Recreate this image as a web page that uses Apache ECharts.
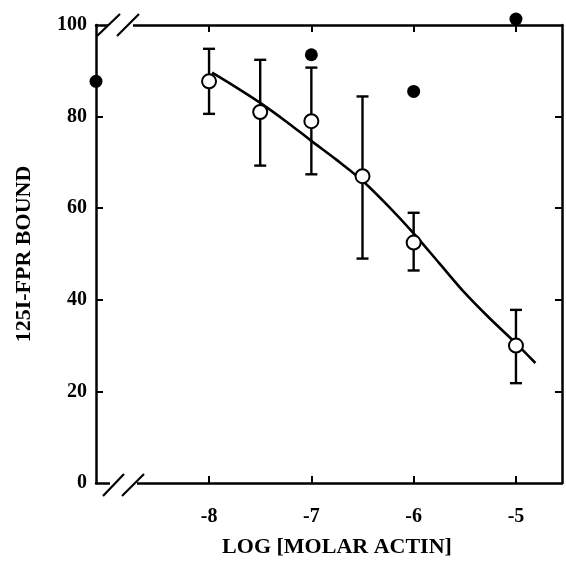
<!DOCTYPE html>
<html><head><meta charset="utf-8">
<script src="https://cdn.jsdelivr.net/npm/echarts@6/dist/echarts.min.js"></script>
<style>html,body{margin:0;padding:0;background:#fff}#c{width:566px;height:563px}</style>
</head><body><div id="c"></div>
<script>
// ---- data ----
const xMin = -9.105, xMax = -4.55;
const xTickValues = [-8, -7, -6, -5];
const yTickValues = [20, 40, 60, 80];
const openX = [-8, -7.5, -7, -6.5, -6, -5];
const openY = [87.7, 81.0, 79.0, 67.0, 52.5, 30.0];
const errLow = [80.6, 69.3, 67.4, 49.0, 46.4, 21.8];
const errHigh = [94.8, 92.4, 90.7, 84.4, 59.0, 37.8];
const filledX = [-9.105, -7, -6, -5];
const filledY = [87.7, 93.5, 85.5, 101.3];
const curveX = [-7.97, -7.75, -7.5, -7.25, -7.0, -6.75, -6.5, -6.25, -6.0, -5.75, -5.5, -5.25, -5.0, -4.81];
const curveY = [89.6, 86.6, 83.0, 79.0, 74.7, 70.5, 66.0, 60.5, 54.5, 48.0, 41.5, 35.8, 30.5, 26.2];
const xName = 'LOG [MOLAR ACTIN]';
const yName = '125I-FPR BOUND';

const FONT = 'Liberation Serif';
const chart = echarts.init(document.getElementById('c'), null, {renderer: 'canvas'});
const axisLine = {show: true, onZero: false, lineStyle: {color: '#000', width: 2.5}};
const tick = (vals) => ({show: true, inside: true, length: 7, lineStyle: {color: '#000', width: 2}, customValues: vals});
const labelStyle = {color: '#000', fontFamily: FONT, fontSize: 20, fontWeight: 'bold'};

chart.setOption({
  animation: false,
  backgroundColor: '#fff',
  grid: {left: 96, right: 4, top: 25, bottom: 75, containLabel: false},
  xAxis: [
    {type: 'value', min: xMin, max: xMax, position: 'bottom',
     axisLine, axisTick: tick(xTickValues), splitLine: {show: false},
     axisLabel: Object.assign({customValues: xTickValues, margin: 24}, labelStyle),
     name: xName, nameLocation: 'middle', nameGap: 53,
     nameTextStyle: {color: '#000', fontFamily: FONT, fontSize: 22, fontWeight: 'bold', padding: [0, 0, 0, 16]}},
    {type: 'value', min: xMin, max: xMax, position: 'top',
     axisLine, axisTick: tick(xTickValues), splitLine: {show: false}, axisLabel: {show: false}}
  ],
  yAxis: [
    {type: 'value', min: 0, max: 100, interval: 20, position: 'left',
     axisLine, axisTick: tick(yTickValues), splitLine: {show: false},
     axisLabel: Object.assign({margin: 9}, labelStyle),
     name: yName, nameLocation: 'middle', nameGap: 61,
     nameTextStyle: {color: '#000', fontFamily: FONT, fontSize: 22, fontWeight: 'bold'}},
    {type: 'value', min: 0, max: 100, interval: 20, position: 'right',
     axisLine, axisTick: tick(yTickValues), splitLine: {show: false}, axisLabel: {show: false}}
  ],
  series: [
    {type: 'line', data: curveX.map((x, i) => [x, curveY[i]]), smooth: 0.3, showSymbol: false,
     lineStyle: {color: '#000', width: 2.6}, z: 2},
    {type: 'custom', data: openX.map((x, i) => [x, errLow[i], errHigh[i]]), z: 3,
     renderItem: function (params, api) {
       const lo = api.coord([api.value(0), api.value(1)]);
       const hi = api.coord([api.value(0), api.value(2)]);
       const w = 6;
       const st = {stroke: '#000', lineWidth: 2.4};
       return {type: 'group', children: [
         {type: 'line', shape: {x1: lo[0], y1: lo[1], x2: hi[0], y2: hi[1]}, style: st},
         {type: 'line', shape: {x1: lo[0] - w, y1: lo[1], x2: lo[0] + w, y2: lo[1]}, style: st},
         {type: 'line', shape: {x1: hi[0] - w, y1: hi[1], x2: hi[0] + w, y2: hi[1]}, style: st}
       ]};
     }},
    {type: 'scatter', data: openX.map((x, i) => [x, openY[i]]), symbol: 'circle', symbolSize: 14,
     itemStyle: {color: '#fff', borderColor: '#000', borderWidth: 2, opacity: 1}, z: 4, clip: false},
    {type: 'scatter', data: filledX.map((x, i) => [x, filledY[i]]), symbol: 'circle', symbolSize: 13,
     itemStyle: {color: '#000', opacity: 1}, z: 5, clip: false}
  ]
});

// axis break marks (decoration) positioned from the axes
const L = chart.convertToPixel({xAxisIndex: 0}, xMin);
const T = chart.convertToPixel({yAxisIndex: 0}, 100);
const B = chart.convertToPixel({yAxisIndex: 0}, 0);
const s = {stroke: '#000', lineWidth: 2.2};
chart.setOption({graphic: [
  {type: 'rect', shape: {x: L + 12, y: T - 3, width: 25, height: 6}, style: {fill: '#fff'}, z: 100},
  {type: 'line', shape: {x1: L + 1, y1: T + 11, x2: L + 24, y2: T - 11}, style: s, z: 101},
  {type: 'line', shape: {x1: L + 21, y1: T + 11, x2: L + 43, y2: T - 11}, style: s, z: 101},
  {type: 'rect', shape: {x: L + 14, y: B - 3, width: 27, height: 6}, style: {fill: '#fff'}, z: 100},
  {type: 'line', shape: {x1: L + 7, y1: B + 13, x2: L + 28, y2: B - 9}, style: s, z: 101},
  {type: 'line', shape: {x1: L + 26, y1: B + 13, x2: L + 48, y2: B - 9}, style: s, z: 101}
]});
</script></body></html>
